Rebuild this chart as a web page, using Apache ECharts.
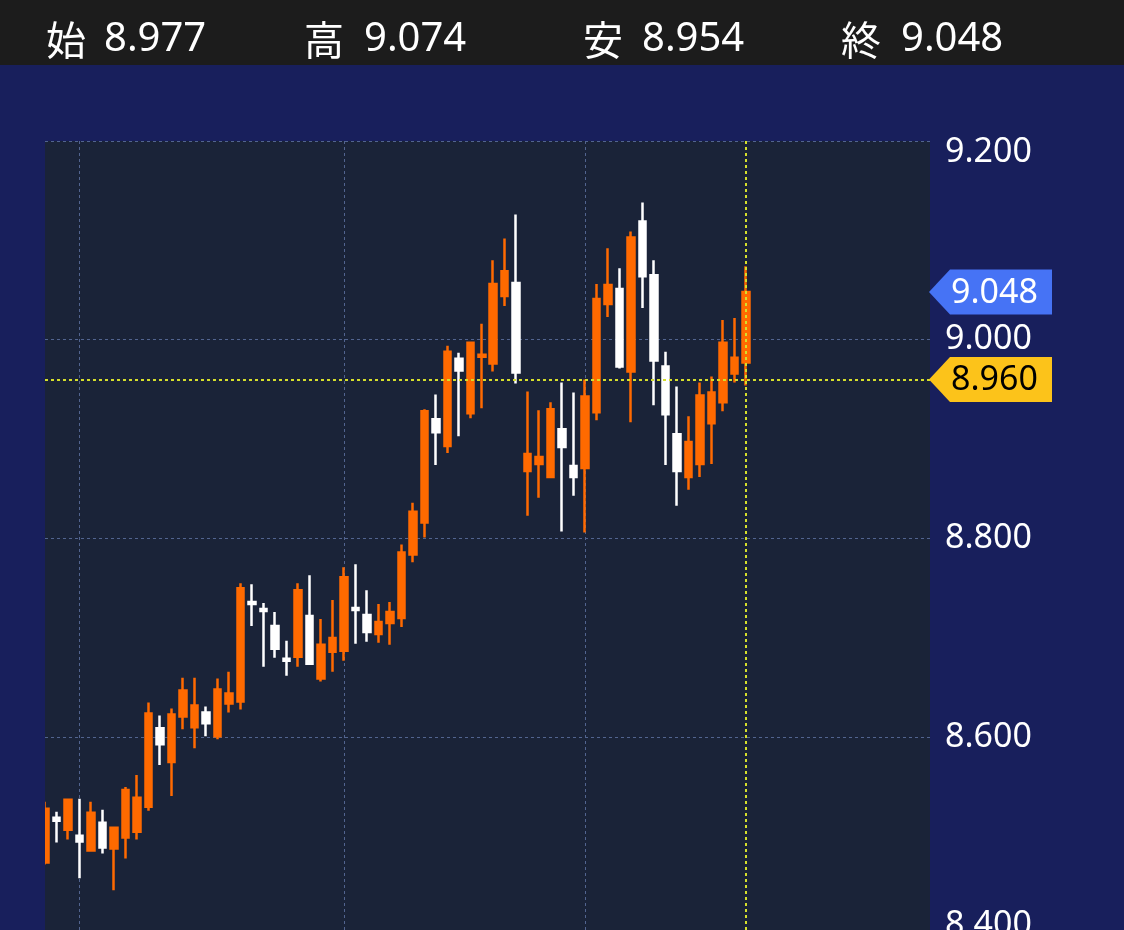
<!DOCTYPE html>
<html><head><meta charset="utf-8">
<script src="https://cdn.jsdelivr.net/npm/echarts@6/dist/echarts.min.js"></script>
<style>html,body{margin:0;padding:0;background:#181f5c}#c{width:1124px;height:930px}</style>
</head><body><div id="c"></div>
<script>
// ---- data ----
const opens  = [8.474,8.519,8.507,8.501,8.486,8.514,8.488,8.499,8.505,8.530,8.609,8.575,8.621,8.610,8.625,8.601,8.634,8.636,8.736,8.729,8.712,8.679,8.681,8.722,8.659,8.686,8.687,8.730,8.723,8.704,8.715,8.720,8.784,8.816,8.920,8.893,8.981,8.926,8.983,8.976,9.044,9.057,8.868,8.875,8.862,8.910,8.873,8.871,8.927,9.036,9.051,8.968,9.119,9.065,8.973,8.905,8.862,8.875,8.916,8.937,8.966,8.977];
const closes = [8.528,8.516,8.537,8.495,8.524,8.489,8.509,8.547,8.539,8.624,8.593,8.623,8.647,8.632,8.614,8.648,8.644,8.750,8.734,8.727,8.689,8.677,8.748,8.674,8.693,8.700,8.761,8.728,8.706,8.716,8.726,8.786,8.827,8.928,8.907,8.988,8.969,8.997,8.985,9.056,9.069,8.967,8.885,8.882,8.930,8.892,8.862,8.943,9.041,9.055,8.973,9.103,9.064,8.979,8.925,8.868,8.897,8.944,8.947,8.997,8.982,9.048];
const lows   = [8.472,8.494,8.497,8.458,8.485,8.483,8.446,8.478,8.497,8.526,8.572,8.541,8.608,8.589,8.601,8.598,8.625,8.628,8.712,8.671,8.680,8.662,8.671,8.674,8.656,8.666,8.677,8.694,8.696,8.695,8.693,8.711,8.776,8.801,8.874,8.886,8.903,8.921,8.931,8.968,9.034,8.956,8.823,8.841,8.862,8.807,8.843,8.806,8.919,9.023,8.971,8.917,9.032,8.934,8.874,8.833,8.849,8.862,8.875,8.928,8.957,8.954];
const highs  = [8.535,8.525,8.538,8.538,8.535,8.527,8.509,8.550,8.562,8.635,8.622,8.629,8.660,8.660,8.631,8.659,8.666,8.755,8.754,8.735,8.726,8.697,8.755,8.763,8.719,8.738,8.771,8.774,8.748,8.734,8.736,8.794,8.836,8.930,8.945,8.994,8.987,8.998,9.016,9.080,9.102,9.126,8.948,8.929,8.937,8.957,8.947,8.960,9.056,9.092,9.072,9.109,9.138,9.080,8.988,8.953,8.923,8.957,8.963,9.020,9.022,9.074];
const emptySlots = 16;            // future slots on the right
const refPrice = 8.960;           // yellow reference line
const yMin = 8.4, yMax = 9.2, yStep = 0.2;
const headerLabels = ['始', '高', '安', '終'];
const sessionBreaks = [3, 26, 47]; // vertical grid line positions (candle index)

// ---- derived ----
const total = opens.length + emptySlots;
const categories = [];
for (let i = 0; i < total; i++) categories.push(String(i + 1));
const candles = opens.map((o, i) => [o, closes[i], lows[i], highs[i]]);
const last = opens.length - 1;
const headerValues = [opens[last], highs[last], lows[last], closes[last]];

const UP = '#ff6a00', DOWN = '#ffffff';
const NAVY = '#181f5c';
const FONT = '"Noto Sans", "Noto Sans CJK JP", sans-serif';
const GRID = { left: 45, top: 141, width: 885, height: 795 };

const chart = echarts.init(document.getElementById('c'));
chart.setOption({
  backgroundColor: NAVY,
  animation: false,
  grid: Object.assign({ show: true, backgroundColor: '#1a2338', borderWidth: 0, containLabel: false, outerBoundsMode: 'none' }, GRID),
  xAxis: {
    type: 'category', data: categories, boundaryGap: false,
    axisLine: { show: false }, axisTick: { show: false }, axisLabel: { show: false },
    splitLine: {
      show: true,
      interval: (idx) => sessionBreaks.indexOf(idx) >= 0,
      lineStyle: { color: '#52648f', width: 1, type: [3, 3] }
    }
  },
  yAxis: {
    type: 'value', position: 'right', min: yMin, max: yMax, interval: yStep,
    axisLine: { show: false }, axisTick: { show: false },
    splitLine: { show: true, lineStyle: { color: '#52648f', width: 1, type: [3, 3] } },
    axisLabel: {
      margin: 15, color: '#ffffff', fontSize: 34, fontFamily: FONT,
      formatter: (v) => {
        const s = v.toFixed(3);
        if (Math.abs(v - yMax) < 1e-9) return '{top|' + s + '}';
        if (Math.abs(v - yMin) < 1e-9) return '{bot|' + s + '}';
        return '{mid|' + s + '}';
      },
      rich: {
        top: { color: '#fff', fontSize: 34, fontFamily: FONT, padding: [22, 0, 0, 0] },
        mid: { color: '#fff', fontSize: 34, fontFamily: FONT, padding: [0, 0, 0, 0] },
        bot: { color: '#fff', fontSize: 34, fontFamily: FONT, padding: [0, 0, 21, 0] }
      }
    }
  },
  series: [{
    type: 'candlestick',
    data: candles,
    barWidth: 7,
    clip: true,
    itemStyle: { color: UP, color0: DOWN, borderColor: UP, borderColor0: DOWN, borderWidth: 2.5 },
    markLine: {
      silent: true, symbol: ['none', 'none'], animation: false,
      label: { show: false },
      lineStyle: { color: '#d6df2c', width: 2, type: [3, 3] },
      data: [{ yAxis: refPrice }, { xAxis: categories[last] }]
    }
  }]
});

function tag(value, fill, textColor) {
  const y = chart.convertToPixel({ yAxisIndex: 0 }, value);
  const tipX = GRID.left + GRID.width - 1;
  const h = 22.5;
  return [{
    type: 'polygon', z: 100,
    shape: { points: [[tipX, y], [tipX + 21, y - h], [tipX + 123, y - h], [tipX + 123, y + h], [tipX + 21, y + h]] },
    style: { fill: fill }
  }, {
    type: 'text', z: 101,
    style: { text: value.toFixed(3), x: tipX + 22, y: y + 1, fill: textColor, fontSize: 34, fontFamily: FONT, verticalAlign: 'middle', align: 'left' }
  }];
}

const graphics = [
  { type: 'rect', z: 50, shape: { x: 0, y: 0, width: 1124, height: 65 }, style: { fill: '#1c1c1c' } },
  // left margin mask: the first candle is cut at the plot's left edge
  { type: 'rect', z: 40, shape: { x: 0, y: GRID.top - 2, width: GRID.left, height: 930 }, style: { fill: NAVY } }
];
const labelX = [46, 304, 583, 841];
const valueX = [104, 364, 642, 901];
headerLabels.forEach((t, i) => {
  graphics.push({ type: 'text', z: 51, style: { text: t, x: labelX[i], y: 40, fill: '#fff', fontSize: 40, fontFamily: '"Noto Sans CJK JP", sans-serif', verticalAlign: 'middle' } });
  graphics.push({ type: 'text', z: 51, style: { text: headerValues[i].toFixed(3), x: valueX[i], y: 40, fill: '#fff', fontSize: 40, fontFamily: FONT, verticalAlign: 'middle' } });
});
graphics.push(...tag(closes[last], '#4673f5', '#ffffff'));
graphics.push(...tag(refPrice, '#fcc31a', '#000000'));
chart.setOption({ graphic: graphics });
</script></body></html>
